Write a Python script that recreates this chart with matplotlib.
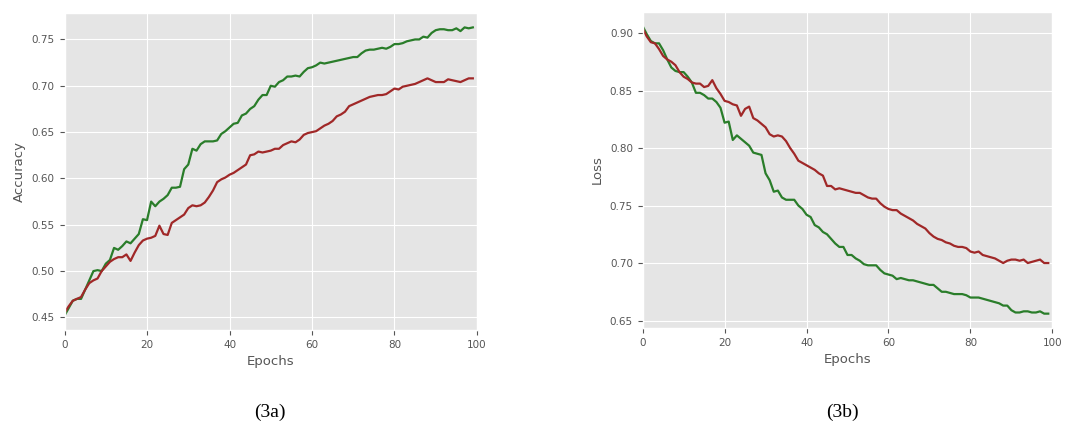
# -*- coding: utf-8 -*-

import matplotlib
matplotlib.use('Agg')
import matplotlib.pyplot as plt

epochs = list(range(100))

acc_green = [0.452, 0.460, 0.468, 0.470, 0.470, 0.480, 0.490, 0.500, 0.501, 0.500,
             0.508, 0.512, 0.525, 0.523, 0.527, 0.532, 0.530, 0.535, 0.540, 0.556,
             0.555, 0.575, 0.570, 0.575, 0.578, 0.582, 0.590, 0.590, 0.591, 0.610,
             0.615, 0.632, 0.630, 0.637, 0.640, 0.640, 0.640, 0.641, 0.648, 0.651,
             0.655, 0.659, 0.660, 0.668, 0.670, 0.675, 0.678, 0.685, 0.690, 0.690,
             0.700, 0.699, 0.704, 0.706, 0.710, 0.710, 0.711, 0.710, 0.715, 0.719,
             0.720, 0.722, 0.725, 0.724, 0.725, 0.726, 0.727, 0.728, 0.729, 0.730,
             0.731, 0.731, 0.735, 0.738, 0.739, 0.739, 0.740, 0.741, 0.740, 0.742,
             0.745, 0.745, 0.746, 0.748, 0.749, 0.750, 0.750, 0.753, 0.752, 0.757,
             0.760, 0.761, 0.761, 0.760, 0.760, 0.762, 0.759, 0.763, 0.762, 0.763]

acc_red = [0.455, 0.462, 0.468, 0.470, 0.472, 0.480, 0.487, 0.490, 0.492, 0.500,
           0.505, 0.510, 0.513, 0.515, 0.515, 0.518, 0.511, 0.520, 0.528, 0.533,
           0.535, 0.536, 0.538, 0.549, 0.540, 0.539, 0.552, 0.555, 0.558, 0.561,
           0.568, 0.571, 0.570, 0.571, 0.574, 0.580, 0.587, 0.596, 0.599, 0.601,
           0.604, 0.606, 0.609, 0.612, 0.615, 0.625, 0.626, 0.629, 0.628, 0.629,
           0.630, 0.632, 0.632, 0.636, 0.638, 0.640, 0.639, 0.642, 0.647, 0.649,
           0.650, 0.651, 0.654, 0.657, 0.659, 0.662, 0.667, 0.669, 0.672, 0.678,
           0.680, 0.682, 0.684, 0.686, 0.688, 0.689, 0.690, 0.690, 0.691, 0.694,
           0.697, 0.696, 0.699, 0.700, 0.701, 0.702, 0.704, 0.706, 0.708, 0.706,
           0.704, 0.704, 0.704, 0.707, 0.706, 0.705, 0.704, 0.706, 0.708, 0.708]

loss_green = [0.906, 0.899, 0.893, 0.891, 0.891, 0.885, 0.877, 0.870, 0.867, 0.866,
              0.866, 0.862, 0.857, 0.848, 0.848, 0.846, 0.843, 0.843, 0.840, 0.835,
              0.822, 0.823, 0.807, 0.811, 0.808, 0.805, 0.802, 0.796, 0.795, 0.794,
              0.778, 0.772, 0.762, 0.763, 0.757, 0.755, 0.755, 0.755, 0.750, 0.747,
              0.742, 0.740, 0.733, 0.731, 0.727, 0.725, 0.721, 0.717, 0.714, 0.714,
              0.707, 0.707, 0.704, 0.702, 0.699, 0.698, 0.698, 0.698, 0.694, 0.691,
              0.690, 0.689, 0.686, 0.687, 0.686, 0.685, 0.685, 0.684, 0.683, 0.682,
              0.681, 0.681, 0.678, 0.675, 0.675, 0.674, 0.673, 0.673, 0.673, 0.672,
              0.670, 0.670, 0.670, 0.669, 0.668, 0.667, 0.666, 0.665, 0.663, 0.663,
              0.659, 0.657, 0.657, 0.658, 0.658, 0.657, 0.657, 0.658, 0.656, 0.656]

loss_red = [0.904, 0.897, 0.892, 0.891, 0.886, 0.880, 0.877, 0.875, 0.872, 0.866,
            0.862, 0.860, 0.857, 0.856, 0.856, 0.853, 0.854, 0.859, 0.852, 0.847,
            0.841, 0.840, 0.838, 0.837, 0.828, 0.834, 0.836, 0.826, 0.824, 0.821,
            0.818, 0.812, 0.810, 0.811, 0.810, 0.806, 0.800, 0.795, 0.789, 0.787,
            0.785, 0.783, 0.781, 0.778, 0.776, 0.767, 0.767, 0.764, 0.765, 0.764,
            0.763, 0.762, 0.761, 0.761, 0.759, 0.757, 0.756, 0.756, 0.752, 0.749,
            0.747, 0.746, 0.746, 0.743, 0.741, 0.739, 0.737, 0.734, 0.732, 0.730,
            0.726, 0.723, 0.721, 0.720, 0.718, 0.717, 0.715, 0.714, 0.714, 0.713,
            0.710, 0.709, 0.710, 0.707, 0.706, 0.705, 0.704, 0.702, 0.700, 0.702,
            0.703, 0.703, 0.702, 0.703, 0.700, 0.701, 0.702, 0.703, 0.700, 0.700]

plt.style.use('ggplot')

fig = plt.figure(figsize=(10.83, 4.26), dpi=100)
ax1 = fig.add_axes([0.0596, 0.2254, 0.3808, 0.7441])
ax2 = fig.add_axes([0.5934, 0.2300, 0.3783, 0.7425])

# accuracy
ax1.plot(epochs, acc_green, color='#2a7d2a', lw=1.6)
ax1.plot(epochs, acc_red, color='#a02828', lw=1.6)
ax1.set_xlim(0, 100)
ax1.set_xlabel('Epochs', fontsize=9.5)
ax1.set_ylabel('Accuracy', fontsize=9.5)
ax1.tick_params(labelsize=7.5)

# loss
ax2.plot(epochs, loss_green, color='#2a7d2a', lw=1.6)
ax2.plot(epochs, loss_red, color='#a02828', lw=1.6)
ax2.set_xlim(0, 100)
ax2.set_xlabel('Epochs', fontsize=9.5)
ax2.set_ylabel('Loss', fontsize=9.5)
ax2.tick_params(labelsize=7.5)

fig.text(0.249, 0.033, '(3a)', ha='center', va='center', fontsize=14,
         family='Liberation Serif', color='black')
fig.text(0.778, 0.033, '(3b)', ha='center', va='center', fontsize=14,
         family='Liberation Serif', color='black')

fig.savefig('out.png', dpi=100)
